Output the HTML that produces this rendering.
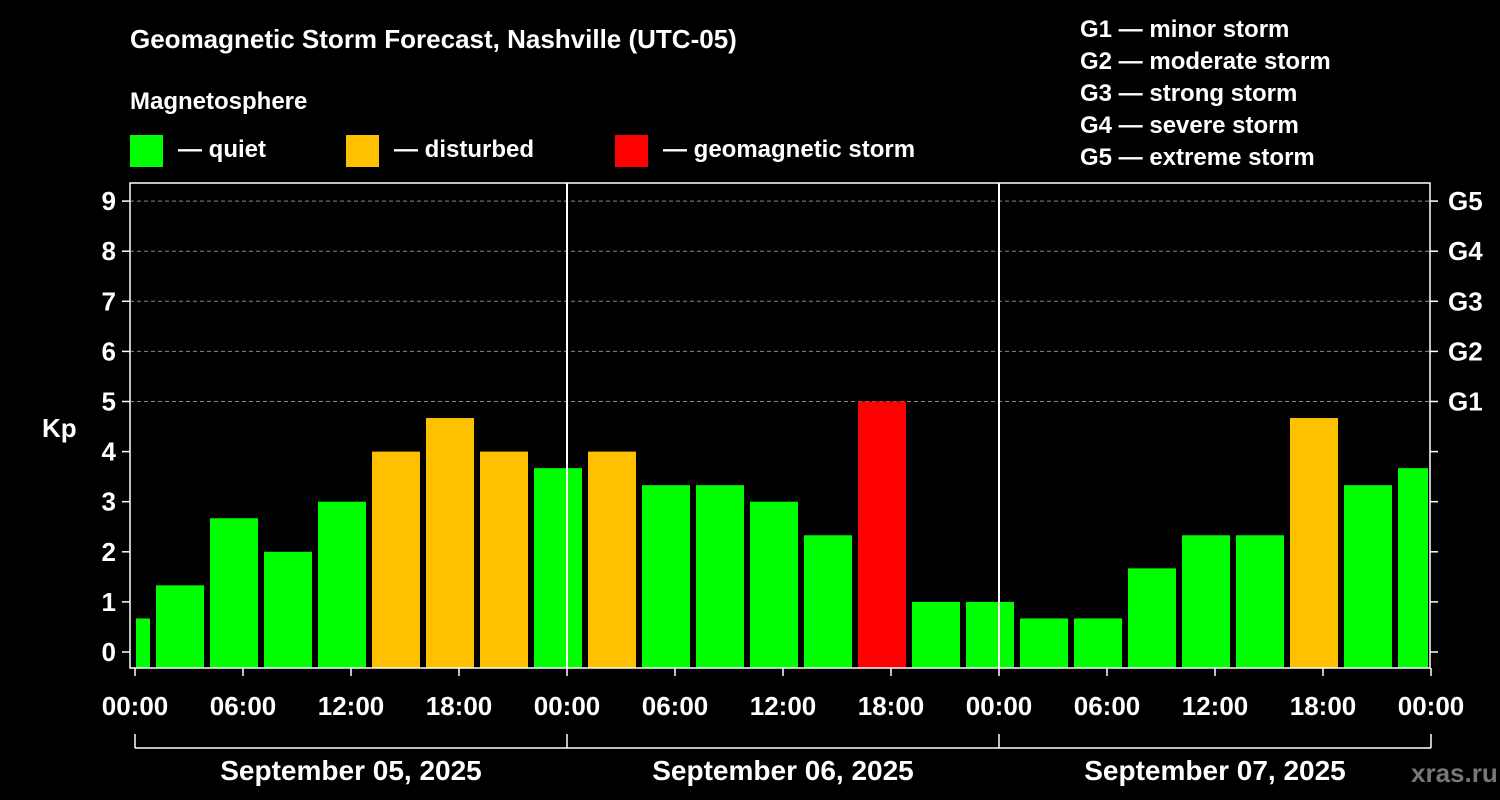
<!DOCTYPE html>
<html><head><meta charset="utf-8"><style>
body{margin:0;background:#000;}
svg{display:block;font-family:"Liberation Sans",Arial,sans-serif;font-weight:bold;}
</style></head><body>
<svg width="1500" height="800" viewBox="0 0 1500 800">
<rect width="1500" height="800" fill="#000"/>
<text x="130" y="48" fill="#fff" font-size="26">Geomagnetic Storm Forecast, Nashville (UTC-05)</text>
<text x="130" y="109" fill="#fff" font-size="24">Magnetosphere</text>
<g><rect x="130" y="135" width="33" height="32" fill="#00ff00"/><text x="178" y="157" fill="#fff" font-size="24">— quiet</text></g>
<g><rect x="346" y="135" width="33" height="32" fill="#ffc000"/><text x="394" y="157" fill="#fff" font-size="24">— disturbed</text></g>
<g><rect x="615" y="135" width="33" height="32" fill="#ff0000"/><text x="663" y="157" fill="#fff" font-size="24">— geomagnetic storm</text></g>
<g fill="#fff" font-size="24">
<text x="1080" y="37">G1 — minor storm</text><text x="1080" y="69">G2 — moderate storm</text><text x="1080" y="101">G3 — strong storm</text><text x="1080" y="133">G4 — severe storm</text><text x="1080" y="165">G5 — extreme storm</text></g>
<text x="42" y="437" fill="#fff" font-size="26">Kp</text>
<text x="1411" y="782" fill="#777" font-size="26">xras.ru</text>
<g id="grid"></g><g id="bars"></g><g id="axes"></g>
</svg>
<script>
const kpValues=[0.67,1.33,2.67,2,3,4,4.67,4,3.67,4,3.33,3.33,3,2.33,5,1,1,0.67,0.67,1.67,2.33,2.33,4.67,3.33,3.67];
const barHours=[-0.5,2.5,5.5,8.5,11.5,14.5,17.5,20.5,23.5,26.5,29.5,32.5,35.5,38.5,41.5,44.5,47.5,50.5,53.5,56.5,59.5,62.5,65.5,68.5,71.5];
const yTicks=[0,1,2,3,4,5,6,7,8,9];
const gLabels=["G1","G2","G3","G4","G5"];
const xTickLabels=["00:00","06:00","12:00","18:00","00:00","06:00","12:00","18:00","00:00","06:00","12:00","18:00","00:00"];
const dateLabels=["September 05, 2025","September 06, 2025","September 07, 2025"];
const NS="http://www.w3.org/2000/svg";
const L=135,R=1431,T=183,B=668;
const x=h=>L+h*18;
const y=v=>652-v*50.1;
function mk(tag,attrs,parent,text){const e=document.createElementNS(NS,tag);for(const k in attrs)e.setAttribute(k,attrs[k]);if(text!==undefined)e.textContent=text;parent.appendChild(e);return e;}
const grid=document.getElementById('grid'),bars=document.getElementById('bars'),axes=document.getElementById('axes');
[5,6,7,8,9].forEach(v=>{const l=mk('line',{x1:130,x2:1430,y1:y(v),y2:y(v),stroke:'#888','stroke-dasharray':'4,3','stroke-width':1},grid);

});
kpValues.forEach((v,i)=>{const c=barHours[i];let x1=Math.max(x(c)-24,136),x2=Math.min(x(c)+24,1428);
const col=v>=5?'#ff0000':(v>=4?'#ffc000':'#00ff00');
const r=mk('rect',{x:x1,y:y(v),width:x2-x1,height:B-y(v),fill:col},bars);

});
mk('rect',{x:130,y:T,width:1300,height:B-T,fill:'none',stroke:'#fff','stroke-width':1.5},axes);
[1,2].forEach(d=>{const l=mk('line',{x1:x(d*24),x2:x(d*24),y1:T,y2:B,stroke:'#fff','stroke-width':2},axes);

});
yTicks.forEach(v=>{mk('line',{x1:122,x2:130,y1:y(v),y2:y(v),stroke:'#fff','stroke-width':1.5},axes);
mk('line',{x1:1430,x2:1438,y1:y(v),y2:y(v),stroke:'#fff','stroke-width':1.5},axes);
const t=mk('text',{x:116,y:y(v)+9,fill:'#fff','font-size':26,'text-anchor':'end'},axes,String(v));

});
gLabels.forEach((g,i)=>{const t=mk('text',{x:1448,y:y(5+i)+9,fill:'#fff','font-size':26},axes,g);

});
xTickLabels.forEach((s,i)=>{const xx=x(i*6);mk('line',{x1:xx,x2:xx,y1:B,y2:B+8,stroke:'#fff','stroke-width':1.5},axes);
const t=mk('text',{x:xx,y:715,fill:'#fff','font-size':26,'text-anchor':'middle'},axes,s);

});
mk('line',{x1:L,x2:R,y1:748,y2:748,stroke:'#fff','stroke-width':1.5},axes);
[0,1,2,3].forEach(d=>mk('line',{x1:x(d*24),x2:x(d*24),y1:734,y2:748,stroke:'#fff','stroke-width':1.5},axes));
dateLabels.forEach((s,i)=>{const t=mk('text',{x:x(i*24+12),y:780,fill:'#fff','font-size':28,'text-anchor':'middle'},axes,s);

});
</script>
</body></html>
